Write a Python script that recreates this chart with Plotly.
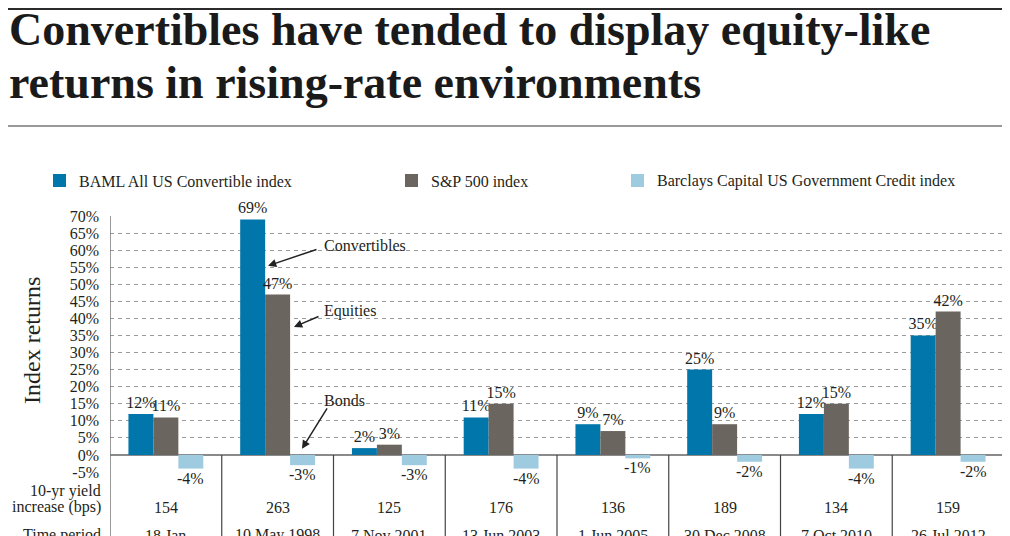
import plotly.graph_objects as go

# ---- data ----
periods = ["18 Jan", "10 May 1998", "7 Nov 2001", "13 Jun 2003",
           "1 Jun 2005", "30 Dec 2008", "7 Oct 2010", "26 Jul 2012"]
convertibles = [12, 69, 2, 11, 9, 25, 12, 35]
equities = [11, 47, 3, 15, 7, 9, 15, 42]
bonds = [-4, -3, -3, -4, -1, -2, -4, -2]
yield_bps = [154, 263, 125, 176, 136, 189, 134, 159]
y_ticks = list(range(-5, 71, 5))

series_names = ["BAML All US Convertible index", "S&P 500 index",
                "Barclays Capital US Government Credit index"]
BLUE, GREY, LIGHT = "#0076AA", "#6B6560", "#9FCBE0"
INK = "#231F20"
FONT = "Liberation Serif"

# the page body adds an 8px margin, so the figure starts at (8, 8) on screen
OFF = 8
SW, SH = 1010, 536
# plot area in screen pixels
L, R, T, B = 110, 1004, 216, 472
BARGAP = 0.33


def px(x):
    return (x - L) / (R - L)


def py(y):
    return (B - y) / (B - T)


fig = go.Figure()
for vals, col, lab in [(convertibles, BLUE, True), (equities, GREY, True), (bonds, LIGHT, False)]:
    fig.add_trace(go.Bar(
        x=periods, y=vals, marker=dict(color=col, line=dict(width=0)),
        text=[f"{v}%" for v in vals] if lab else None,
        textposition="outside" if lab else "none",
        textfont=dict(family=FONT, size=16, color=INK),
        cliponaxis=False, constraintext="none", showlegend=False))

ann = []
shapes = []

# bond labels sit just under the (negative) bar ends
bw = (1 - BARGAP) / 3
for i, v in enumerate(bonds):
    ann.append(dict(text=f"{v}%", xref="x", yref="y", x=i + bw, y=v,
                    xanchor="center", yanchor="top", yshift=1, showarrow=False,
                    font=dict(family=FONT, size=16, color=INK)))

# title
ann.append(dict(text="<b>Convertibles have tended to display equity-like</b>",
                xref="paper", yref="paper", x=px(7), y=py(29), xanchor="left",
                yanchor="middle", showarrow=False,
                font=dict(family=FONT, size=46, color="#1a1a1a")))
ann.append(dict(text="<b>returns in rising-rate environments</b>",
                xref="paper", yref="paper", x=px(7), y=py(82), xanchor="left",
                yanchor="middle", showarrow=False,
                font=dict(family=FONT, size=46, color="#1a1a1a")))
shapes.append(dict(type="line", xref="paper", yref="paper", x0=px(OFF), x1=px(SW),
                   y0=py(9), y1=py(9), line=dict(color="#2b2b2b", width=2)))
shapes.append(dict(type="line", xref="paper", yref="paper", x0=px(OFF), x1=px(1008),
                   y0=py(126), y1=py(126), line=dict(color="#777777", width=1.5)))

# legend drawn by hand
for name, col, x0 in zip(series_names, [BLUE, GREY, LIGHT], [53, 405, 631]):
    shapes.append(dict(type="rect", xref="paper", yref="paper", x0=px(x0), x1=px(x0 + 13),
                       y0=py(187), y1=py(174), fillcolor=col, line=dict(width=0)))
    ann.append(dict(text=name, xref="paper", yref="paper", x=px(x0 + 24), y=py(181),
                    xanchor="left", yanchor="middle", showarrow=False,
                    font=dict(family=FONT, size=16, color=INK)))

# y axis title
ann.append(dict(text="Index returns", xref="paper", yref="paper", x=px(32), y=py(341),
                textangle=-90, showarrow=False, xanchor="center", yanchor="middle",
                font=dict(family=FONT, size=24, color=INK)))

# callouts
for label, hx, hy, tx, ty, ly in [("Convertibles", 0.914, 55.4, 318, 249, 245),
                                  ("Equities", 1.146, 37.5, 320, 316, 311),
                                  ("Bonds", 1.218, 1.8, 328, 407, 400)]:
    hpx = L + (hx + 0.5) * (R - L) / 8
    hpy = 455 - hy * (B - T) / 75
    ann.append(dict(text="", x=hx, y=hy, xref="x", yref="y", showarrow=True,
                    ax=tx - hpx, ay=ty - hpy, arrowhead=2, arrowsize=1.1,
                    arrowwidth=1.5, arrowcolor="#222222"))
    ann.append(dict(text=label, xref="paper", yref="paper", x=px(322), y=py(ly),
                    xanchor="left", yanchor="middle", showarrow=False,
                    font=dict(family=FONT, size=16, color=INK)))

# table under the chart
ann.append(dict(text="10-yr yield", xref="paper", yref="paper", x=px(103), y=py(491),
                xanchor="right", yanchor="middle", showarrow=False,
                font=dict(family=FONT, size=16, color=INK)))
ann.append(dict(text="increase (bps)", xref="paper", yref="paper", x=px(103), y=py(507),
                xanchor="right", yanchor="middle", showarrow=False,
                font=dict(family=FONT, size=16, color=INK)))
ann.append(dict(text="Time period", xref="paper", yref="paper", x=px(103), y=py(535),
                xanchor="right", yanchor="middle", showarrow=False,
                font=dict(family=FONT, size=16, color=INK)))
for i, (p, v) in enumerate(zip(periods, yield_bps)):
    ann.append(dict(text=str(v), xref="x", yref="paper", x=i, y=py(507),
                    xanchor="center", yanchor="middle", showarrow=False,
                    font=dict(family=FONT, size=16, color=INK)))
    ann.append(dict(text=p, xref="x", yref="paper", x=i, y=py(535),
                    xanchor="center", yanchor="middle", showarrow=False,
                    font=dict(family=FONT, size=16, color=INK)))

# left axis line and column separators
shapes.append(dict(type="line", xref="x", yref="paper", x0=-0.5, x1=-0.5,
                   y0=1, y1=py(560), line=dict(color="#777777", width=1.5)))
for k in range(len(periods)):
    shapes.append(dict(type="line", xref="x", yref="paper", x0=k + 0.5, x1=k + 0.5,
                       y0=py(455), y1=py(560), line=dict(color="#444444", width=1.2)))

fig.update_layout(
    width=SW - OFF, height=SH - OFF,
    margin=dict(l=L - OFF, r=SW - R, t=T - OFF, b=SH - B),
    paper_bgcolor="white", plot_bgcolor="white",
    barmode="group", bargap=BARGAP, bargroupgap=0,
    font=dict(family=FONT, size=16, color=INK),
    annotations=ann, shapes=shapes, showlegend=False,
    xaxis=dict(range=[-0.5, 7.5], showticklabels=False, showgrid=False,
               zeroline=False, showline=False, fixedrange=True),
    yaxis=dict(range=[-5, 70], tickvals=y_ticks,
               ticktext=[f"{t}%" for t in y_ticks],
               tickfont=dict(family=FONT, size=16, color=INK),
               ticklabelstandoff=10,
               showgrid=True, gridcolor="#9a9a9a", gridwidth=1, griddash="4px,4px",
               zeroline=True, zerolinecolor="#8a8a8a", zerolinewidth=2,
               showline=False, fixedrange=True),
)

fig.write_html("out.html")
